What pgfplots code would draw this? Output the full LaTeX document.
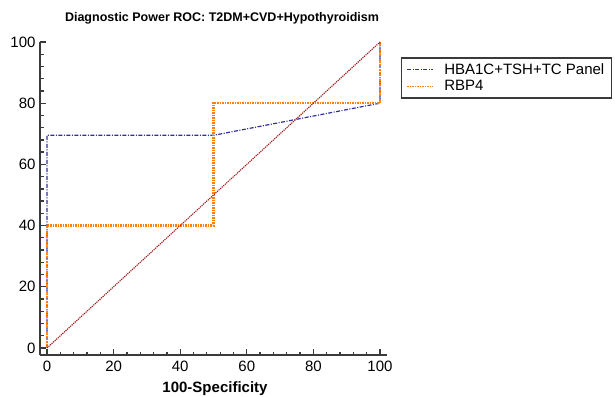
\documentclass[border=0pt]{standalone}
\usepackage{fontspec}
\setmainfont{Liberation Sans}
\usepackage{pgfplots}
\pgfplotsset{compat=1.18}
\definecolor{spine}{HTML}{3A3A3A}
\definecolor{panel}{HTML}{3030A0}
\definecolor{rbp}{HTML}{FF7F0E}
\definecolor{diag}{HTML}{A01818}
\begin{document}
\begin{tikzpicture}
\path[use as bounding box] (0pt,0pt) rectangle (615pt,-396pt);
\begin{axis}[
  at={(40pt,-355pt)}, anchor=south west,
  scale only axis, width=347pt, height=313pt,
  xmin=-2.1, xmax=102.1, ymin=-2.3, ymax=100,
  axis x line*=bottom, axis y line*=left,
  axis line style={spine, line width=2.2pt, -},
  every tick/.style={spine, line width=1.3pt},
  minor tick num=4,
  tick align=inside,
  major tick length=6pt, minor tick length=3.5pt,
  xtick={0,20,40,60,80,100}, ytick={0,20,40,60,80,100},
  /pgf/number format/assume math mode=true,
  ticklabel style={font=\fontsize{15}{17}\selectfont, black},
  xticklabel style={yshift=-2pt},
  yticklabel style={xshift=-1pt},
  clip=false,
  legend style={at={(1.04,0.952)}, anchor=north west, draw=spine, line width=1.6pt,
    font=\fontsize{15}{18}\selectfont, inner xsep=5pt, inner ysep=3.5pt,
    nodes={inner sep=2.2pt}},
  legend cell align=left,
  legend image code/.code={\draw[#1, line width=1.2pt] (0pt,0pt) -- (26pt,0pt); \path (34pt,0pt);},
]
\addplot[panel, line width=1.2pt, dash pattern=on 4pt off 1.5pt on 1pt off 1.5pt, forget plot] coordinates {(0,0) (0,69.5) (50,69.5) (100,80) (100,100)};
\addplot[rbp, line width=2.3pt, dash pattern=on 2pt off 1pt on 1pt off 1pt, forget plot] coordinates {(0,0) (0,40) (50,40) (50,80) (100,80) (100,100)};
\addplot[diag, line width=1.1pt, dash pattern=on 1.2pt off 0.9pt, forget plot] coordinates {(0,0) (100,100)};
\addlegendimage{panel, dash pattern=on 4pt off 1.5pt on 1pt off 1.5pt}
\addlegendentry{HBA1C+TSH+TC Panel\hspace{4pt}}
\addlegendimage{rbp, dash pattern=on 2pt off 1pt on 1pt off 1pt}
\addlegendentry{RBP4}
\end{axis}
\node[font=\fontsize{12.5}{14}\selectfont\bfseries] at (222pt,-18pt) {Diagnostic Power ROC: T2DM+CVD+Hypothyroidism};
\node[font=\fontsize{15}{17}\selectfont\bfseries] at (215pt,-389pt) {100-Specificity};
\end{tikzpicture}
\end{document}
